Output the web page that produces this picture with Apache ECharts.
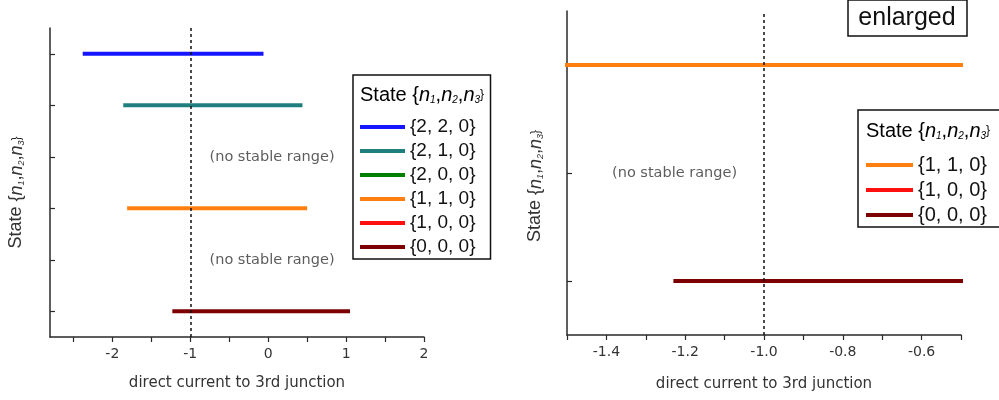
<!DOCTYPE html>
<html>
<head>
<meta charset="utf-8">
<script src="https://cdn.jsdelivr.net/npm/echarts@6/dist/echarts.min.js"></script>
<style>
  html, body { margin: 0; padding: 0; background: #fff; }
  #chart { width: 999px; height: 400px; }
</style>
</head>
<body>
<div id="chart"></div>
<script>
// States from bottom to top of the vertical axis
const states = ['{0, 0, 0}', '{1, 0, 0}', '{1, 1, 0}', '{2, 0, 0}', '{2, 1, 0}', '{2, 2, 0}'];
// Stable range of direct current for each state (null = no stable range)
const rangeStart = [-1.23, null, -1.81, null, -1.86, -2.38];
const rangeEnd   = [1.05, null, 0.50, null, 0.44, -0.06];
const stateColors = ['#7d0000', '#ff1010', '#ff8010', '#008000', '#1f7f7f', '#1515ff'];

// States shown in the enlarged panel
const enlargedStates = ['{0, 0, 0}', '{1, 0, 0}', '{1, 1, 0}'];

// Tick positions
const fullTicks = [-2.5, -2, -1.5, -1, -0.5, 0, 0.5, 1, 1.5, 2];
const fullLabels = [-2, -1, 0, 1, 2];
const zoomTicks = [-1.5, -1.4, -1.3, -1.2, -1.1, -1.0, -0.9, -0.8, -0.7, -0.6, -0.5];
const zoomLabels = [-1.4, -1.2, -1.0, -0.8, -0.6];

// Annotations: [x, state]
const fullNotes = [[0.05, '{2, 0, 0}'], [0.05, '{1, 0, 0}']];
const zoomNotes = [[-1.227, '{1, 0, 0}']];
const noteText = '(no stable range)';

const refCurrent = -1;

const axisColor = '#2a2a2a';
const textFont = 'DejaVu Sans';
const titleRich = {
  b: { fontFamily: 'Liberation Sans', fontSize: 20, color: '#111' },
  i: { fontFamily: 'Liberation Sans', fontSize: 20, fontStyle: 'italic', color: '#111' },
  s: { fontFamily: 'Liberation Sans', fontSize: 10, fontStyle: 'italic', color: '#111', padding: [11, 0, 0, 0] }
};
const nameRich = {
  b: { fontFamily: 'Liberation Sans', fontSize: 18, color: '#333' },
  i: { fontFamily: 'Liberation Sans', fontSize: 18, fontStyle: 'italic', color: '#333' },
  s: { fontFamily: 'Liberation Sans', fontSize: 9, fontStyle: 'italic', color: '#333', padding: [10, 0, 0, 0] }
};
const stateTitle = '{b|State \{}{i|n}{s|1}{b|,}{i|n}{s|2}{b|,}{i|n}{s|3}{b|\}}';

function xAxisFor(gridIndex, min, max, ticks, labels, fmt, nameGap) {
  return {
    type: 'value', gridIndex, min, max,
    name: 'direct current to 3rd junction',
    nameLocation: 'middle', nameGap,
    nameTextStyle: { fontFamily: textFont, fontSize: 15, color: '#333' },
    splitLine: { show: false },
    axisLine: { show: true, onZero: false, lineStyle: { color: axisColor, width: 1.5 } },
    axisTick: { show: true, length: 5, customValues: ticks, lineStyle: { color: axisColor, width: 1.2 } },
    axisLabel: { customValues: labels, formatter: fmt, margin: 10,
      fontFamily: textFont, fontSize: 14, color: '#333' }
  };
}

function yAxisFor(gridIndex, cats, nameGap, shift) {
  return {
    type: 'category', gridIndex, data: cats,
    name: stateTitle,
    nameLocation: 'middle', nameGap, nameRotate: 90,
    nameTextStyle: { rich: nameRich, padding: [0, shift, 0, 0] },
    axisLine: { show: true, onZero: false, lineStyle: { color: axisColor, width: 1.5 } },
    axisTick: { show: true, inside: true, length: 5, alignWithLabel: true, lineStyle: { color: axisColor, width: 1.2 } },
    axisLabel: { show: false },
    splitLine: { show: false }
  };
}

const series = [];
function rangeSeries(i, xIdx, yIdx) {
  const data = rangeStart[i] === null ? [] :
    [[rangeStart[i], states[i]], [rangeEnd[i], states[i]]];
  return {
    type: 'line', name: states[i], xAxisIndex: xIdx, yAxisIndex: yIdx,
    data, symbol: 'none', clip: true, color: stateColors[i],
    lineStyle: { width: 4, color: stateColors[i] },
    z: 3
  };
}
for (let i = states.length - 1; i >= 0; i--) series.push(rangeSeries(i, 0, 0));
for (let i = enlargedStates.length - 1; i >= 0; i--) {
  series.push(rangeSeries(states.indexOf(enlargedStates[i]), 1, 1));
}

function refLine(xIdx, yIdx) {
  return {
    type: 'line', name: 'ref', xAxisIndex: xIdx, yAxisIndex: yIdx, data: [],
    markLine: {
      silent: true, symbol: 'none', label: { show: false },
      lineStyle: { color: '#111', width: 1.5, type: [3, 3] },
      data: [{ xAxis: refCurrent }]
    }
  };
}
series.push(refLine(0, 0), refLine(1, 1));

function noteSeries(notes, xIdx, yIdx) {
  return {
    type: 'scatter', name: 'note', xAxisIndex: xIdx, yAxisIndex: yIdx,
    data: notes, symbolSize: 0,
    label: { show: true, position: 'inside', formatter: noteText,
      fontFamily: textFont, fontSize: 14.5, color: '#333' }
  };
}
series.push(noteSeries(fullNotes, 0, 0), noteSeries(zoomNotes, 1, 1));

const legendText = { fontFamily: 'Liberation Sans', fontSize: 19, color: '#111', lineHeight: 20 };

const option = {
  animation: false,
  backgroundColor: '#fff',
  grid: [
    { left: 50, top: 28, width: 374, height: 309 },
    { left: 567, top: 11, width: 394, height: 324 }
  ],
  xAxis: [
    xAxisFor(0, -2.8, 2, fullTicks, fullLabels, v => String(Math.round(v)), 39),
    xAxisFor(1, -1.5, -0.5, zoomTicks, zoomLabels, v => v.toFixed(1), 42)
  ],
  yAxis: [
    yAxisFor(0, states, 24, 20),
    yAxisFor(1, enlargedStates, 22, 26)
  ],
  legend: [
    {
      left: 353, top: 75, orient: 'vertical',
      data: states.slice().reverse(),
      icon: 'rect', itemWidth: 45, itemHeight: 4, itemGap: 4,
      padding: [42, 15, 2, 7],
      borderColor: '#111', borderWidth: 1.5, backgroundColor: '#fff',
      textStyle: legendText, selectedMode: false
    },
    {
      left: 858, top: 110, orient: 'vertical',
      data: enlargedStates.slice().reverse(),
      icon: 'rect', itemWidth: 47, itemHeight: 4, itemGap: 5,
      padding: [45, 40, 2, 8],
      borderColor: '#111', borderWidth: 1.5, backgroundColor: '#fff',
      textStyle: Object.assign({}, legendText, { fontSize: 20 }), selectedMode: false
    }
  ],
  graphic: [
    { type: 'text', left: 360, top: 85, z: 100,
      style: { text: stateTitle, rich: titleRich } },
    { type: 'text', left: 866, top: 121, z: 100,
      style: { text: stateTitle, rich: titleRich } },
    { type: 'rect', shape: { x: 848, y: 0, width: 119, height: 36 },
      style: { fill: '#fff', stroke: '#111', lineWidth: 1.5 }, z: 100 },
    { type: 'text', x: 907, y: 18, z: 101,
      style: { text: 'enlarged', fontFamily: 'Liberation Sans', fontSize: 25,
        fill: '#111', align: 'center', verticalAlign: 'middle' } }
  ],
  series
};

const chart = echarts.init(document.getElementById('chart'), null, { renderer: 'canvas' });
chart.setOption(option);
</script>
</body>
</html>
